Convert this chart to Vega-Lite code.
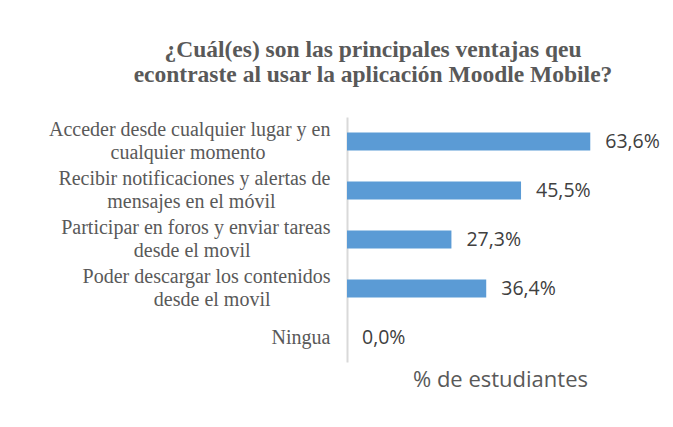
{
  "$schema": "https://vega.github.io/schema/vega-lite/v6.json",
  "autosize": "none",
  "width": 306,
  "height": 245,
  "padding": {"left": 347, "top": 117, "right": 20, "bottom": 65},
  "background": "white",
  "config": {
    "view": {"stroke": null},
    "locale": {"number": {"decimal": ",", "thousands": ".", "grouping": [3], "currency": ["", " €"]}}
  },
  "title": {
    "text": ["¿Cuál(es) son las principales ventajas qeu", "econtraste al usar la  aplicación Moodle Mobile?"],
    "font": "Liberation Serif",
    "fontSize": 23.5,
    "fontWeight": "bold",
    "color": "#595959",
    "lineHeight": 25,
    "anchor": "middle",
    "dx": -127,
    "offset": 31
  },
  "data": {
    "values": [
      {"opcion": "Acceder desde cualquier lugar y en|cualquier momento", "pct": 0.636},
      {"opcion": "Recibir notificaciones y alertas de|mensajes en el móvil", "pct": 0.455},
      {"opcion": "Participar en foros y enviar tareas|desde el movil", "pct": 0.273},
      {"opcion": "Poder descargar los contenidos|desde el movil", "pct": 0.364},
      {"opcion": "Ningua", "pct": 0.0}
    ]
  },
  "encoding": {
    "y": {
      "field": "opcion",
      "type": "nominal",
      "sort": null,
      "scale": {"paddingInner": 0.63},
      "axis": {
        "title": null,
        "ticks": false,
        "domainColor": "#d9d9d9",
        "domainWidth": 2,
        "labelFont": "Liberation Serif",
        "labelFontSize": 20,
        "labelColor": "#595959",
        "labelPadding": 17,
        "labelLineHeight": 23,
        "labelLimit": 400,
        "labelOffset": {"condition": {"test": "indexof(datum.value, '|') >= 0", "value": -11.5}, "value": 0},
        "labelExpr": "indexof(datum.label, '|') >= 0 ? [split(datum.label, '|')[0], pad(split(datum.label, '|')[1], length(split(datum.label, '|')[1]) + round(0.75 * (length(split(datum.label, '|')[0]) - length(split(datum.label, '|')[1]))), '\u00a0') + '\u200b'] : datum.label"
      }
    },
    "x": {
      "field": "pct",
      "type": "quantitative",
      "scale": {"domain": [0, 0.8]},
      "axis": {
        "title": "% de estudiantes",
        "titleFont": "Open Sans",
        "titleFontSize": 22,
        "titleFontWeight": "normal",
        "titleColor": "#595959",
        "titlePadding": 7,
        "labels": false,
        "ticks": false,
        "domain": false,
        "grid": false
      }
    }
  },
  "layer": [
    {"mark": {"type": "bar", "color": "#5b9bd5"}},
    {
      "mark": {"type": "text", "align": "left", "baseline": "middle", "dx": 15, "font": "Open Sans", "fontSize": 19.5, "color": "#404040"},
      "encoding": {"text": {"field": "pct", "type": "quantitative", "format": ".1%"}}
    }
  ]
}
